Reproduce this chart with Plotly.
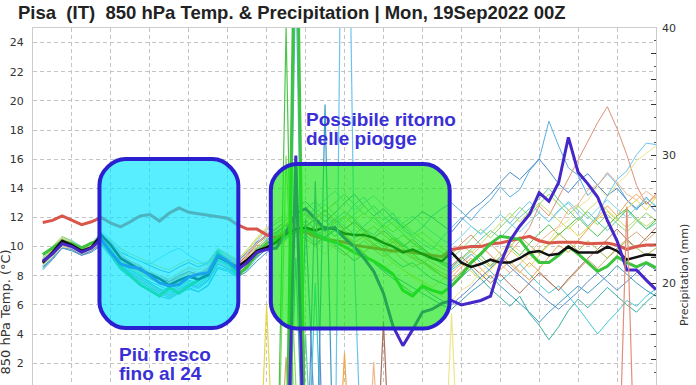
import plotly.graph_objects as go

# ---------------- data ----------------
FORECAST_HOURS = list(range(6, 385, 6))  # 64 forecast steps (6-hourly)

TEMP_TICKS = [2, 4, 6, 8, 10, 12, 14, 16, 18, 20, 22, 24]
PRECIP_TICK_VALUES = [14, 16, 18, 20, 22, 24, 26, 28, 30, 32, 34, 36, 38, 40]
PRECIP_TICK_TEXT = ["", "", "", "20", "", "", "", "", "30", "", "", "", "", "40"]

CLIMATE = [11.65, 11.8, 12.1, 11.8, 11.5, 11.7,
           12.0, 11.6, 11.35, 11.7, 12.1, 12.2, 11.75, 12.3, 12.65, 12.35, 12.25, 12.2, 12.05, 11.95, 11.5,
           11.2, 11.2, 10.8, 10.6,
           10.9, 11.1, 11.0, 10.7, 10.5, 10.4, 10.3, 10.1, 10.0, 9.9, 9.8, 9.7, 9.7, 9.6, 9.5, 9.4, 9.3,
           9.8, 9.9, 10.0, 10.0, 10.2, 10.25, 10.4, 10.5, 10.7, 10.4, 10.25, 10.3, 10.3, 10.3, 10.2, 10.2,
           10.25, 10.1, 9.8, 10.0, 10.1, 10.1]

ENS_MEAN = [8.9, 9.6, 10.4, 10.1, 9.7, 9.95,
            10.8, 10.1, 9.2, 8.8, 8.4, 8.1, 7.8, 7.35, 7.7, 7.95, 7.75, 8.05, 9.3, 8.95, 8.6,
            9.1, 9.7, 9.95, 10.3,
            10.9, 11.2, 11.3, 11.1, 11.3, 11.2, 10.9, 10.8, 10.8, 10.6, 10.25, 10.0, 9.6, 9.8, 9.5, 9.2, 9.0,
            9.6, 8.9, 8.6, 8.8, 9.1, 8.9, 8.9, 9.2, 9.6, 9.7, 9.4, 9.5, 10.0, 9.6, 9.6, 9.6, 10.0, 9.7,
            9.1, 9.3, 9.45, 9.4]

CONTROL = [9.45, 9.9, 10.35, 10.2, 9.9, 10.25,
           10.4, 9.5, 8.6, 8.0, 7.4, 7.0, 6.6, 7.2, 6.8, 7.3, 7.7, 8.2, 9.6, 9.0, 8.0,
           8.6, 9.5, 10.2, 10.5,
           10.8, 11.0, 11.2, 10.9, 10.5, 10.3, 10.0, 9.6, 9.3, 9.0, 8.6, 8.1, 7.0, 6.6, 7.3, 7.0, 6.8,
           7.3, 8.0, 8.9, 9.5, 10.2, 10.7, 10.6, 10.5, 9.6, 8.9, 8.9, 9.4, 10.0, 9.5, 8.9, 8.3, 8.65, 9.3,
           8.9, 8.6, 8.9, 8.55]

OPERATIONAL = [9.0, 9.5, 10.2, 10.0, 9.6, 9.9,
               10.5, 9.6, 8.8, 8.6, 8.5, 8.0, 7.5, 7.3, 7.4, 7.9, 8.1, 8.2, 9.4, 9.0, 8.4,
               8.9, 9.6, 9.8, 9.9,
               11.0, 12.3, 12.6, 11.9, 11.2, 11.3, 10.6, 10.0, 9.2, 8.3, 6.8, 4.5, 3.2, 4.3, 5.5, 5.7, 6.1,
               6.3, 6.0, 6.15, 6.3, 6.6, 8.8, 10.4, 11.4, 12.2, 13.7, 13.1, 14.4, 17.5, 15.1, 14.3, 13.4,
               11.8, 10.4, 8.4, 8.4, 7.7, 7.05]

MEMBER_01 = [8.7, 9.4, 10.2, 10.3, 9.8, 10.1,
             10.6, 9.8, 8.9, 8.4, 8.0, 7.6, 7.3, 7.0, 7.4, 7.7, 7.5, 8.0, 9.0, 8.7, 8.4,
             9.0, 9.8, 10.4, 10.9,
             11.4, 11.9, 12.3, 11.6, 11.0, 11.8, 12.4, 11.9, 11.2, 10.8, 11.5, 12.0, 11.4, 10.8, 11.3, 12.1, 12.6,
             13.0, 12.4, 11.8, 12.6, 13.2, 14.1, 13.4, 13.9, 15.2, 16.0, 18.6, 16.9, 15.4, 14.9, 13.5, 14.2,
             15.0, 14.3, 13.2, 12.5, 13.4, 12.7]
MEMBER_02 = [9.1, 9.7, 10.5, 10.0, 9.6, 9.8,
             10.7, 10.2, 9.4, 9.0, 8.7, 8.2, 8.0, 7.6, 7.9, 8.3, 8.0, 8.4, 9.5, 9.1, 8.7,
             9.3, 10.1, 10.0, 10.4,
             10.9, 11.3, 10.8, 11.5, 12.2, 11.6, 11.1, 10.6, 10.9, 10.2, 9.7, 10.3, 9.6, 9.2, 8.8, 9.4, 9.0,
             9.5, 10.2, 10.8, 10.1, 9.4, 8.7, 9.6, 10.4, 11.3, 12.8, 12.1, 13.4, 14.6, 15.9, 17.2, 18.5,
             19.6, 18.1, 16.3, 14.2, 12.9, 13.6]
MEMBER_03 = [8.6, 9.3, 10.0, 9.9, 9.5, 9.7,
             10.3, 9.4, 8.5, 8.1, 7.7, 7.2, 6.9, 6.6, 7.0, 7.3, 7.1, 7.6, 8.8, 8.5, 8.1,
             8.4, 9.2, 9.9, 10.3,
             10.8, 11.5, 12.0, 12.6, 12.1, 11.4, 12.0, 12.9, 13.4, 12.5, 11.8, 12.3, 11.2, 10.7, 10.2, 9.8, 10.6,
             11.3, 12.0, 11.4, 10.9, 11.5, 12.2, 11.6, 12.4, 13.1, 12.3, 11.7, 12.5, 13.0, 12.2, 11.4, 12.1,
             13.5, 14.6, 15.2, 16.3, 17.1, 17.0]
MEMBER_04 = [8.8, 9.5, 10.3, 10.0, 9.7, 10.0,
             10.9, 10.3, 9.6, 9.3, 9.0, 8.7, 8.4, 8.2, 8.6, 8.9, 8.6, 8.9, 9.8, 9.4, 9.0,
             9.6, 10.3, 10.8, 11.2,
             11.8, 12.6, 13.1, 12.4, 11.7, 12.3, 13.0, 13.6, 12.8, 12.1, 12.6, 11.9, 11.3, 11.8, 12.4, 12.0, 11.5,
             11.0, 11.8, 12.5, 13.0, 13.6, 14.4, 15.1, 14.6, 15.3, 16.0, 15.2, 14.3, 13.7, 14.5, 15.0, 14.2,
             13.5, 14.0, 13.2, 12.6, 13.1, 12.4]
MEMBER_05 = [9.0, 9.6, 10.4, 10.2, 9.8, 10.0,
             10.5, 9.6, 8.7, 8.2, 7.6, 7.2, 6.8, 6.5, 6.9, 7.2, 6.9, 7.4, 8.6, 8.4, 8.0,
             8.6, 9.4, 10.0, 10.2,
             10.6, 11.0, 10.5, 10.1, 10.7, 11.2, 10.6, 10.0, 9.6, 10.2, 9.7, 9.1, 8.6, 8.9, 8.3, 7.8, 7.5,
             7.2, 7.9, 8.5, 7.8, 7.1, 6.5, 5.9, 6.6, 5.4, 4.6, 3.6, 4.5, 5.6, 6.4, 5.8, 6.5,
             7.2, 6.6, 6.0, 5.5, 6.2, 6.8]
MEMBER_06 = [8.5, 9.2, 10.1, 10.0, 9.6, 9.9,
             10.4, 9.7, 8.8, 8.3, 7.9, 7.5, 7.1, 6.8, 7.2, 7.5, 7.3, 7.8, 9.0, 8.8, 8.3,
             8.8, 9.7, 10.5, 10.8,
             11.2, 11.7, 11.1, 10.6, 11.3, 11.9, 11.4, 10.8, 11.4, 12.0, 11.3, 10.7, 10.2, 9.6, 9.9, 9.3, 8.8,
             8.4, 8.9, 9.5, 8.9, 8.3, 7.6, 8.2, 8.8, 8.1, 7.4, 6.8, 7.3, 6.6, 5.8, 4.9, 4.0,
             4.8, 5.5, 6.3, 5.9, 6.6, 7.1]
MEMBER_07 = [9.2, 9.9, 10.6, 10.3, 9.9, 10.1,
             10.8, 10.4, 9.9, 9.5, 9.2, 8.9, 8.6, 8.4, 8.8, 9.1, 8.8, 9.0, 9.9, 9.5, 9.1,
             9.7, 10.5, 11.2, 11.6,
             12.0, 11.4, 10.9, 11.5, 10.9, 10.3, 10.8, 10.2, 9.6, 10.1, 9.5, 8.9, 8.4, 8.0, 7.6, 7.2, 7.7,
             8.2, 8.8, 8.3, 7.7, 8.4, 9.1, 9.8, 9.2, 8.6, 9.4, 10.1, 10.8, 11.4, 10.7, 11.3, 11.9,
             12.4, 11.8, 12.6, 13.2, 12.5, 13.4]
MEMBER_08 = [8.9, 9.5, 10.2, 10.1, 9.7, 10.0,
             10.6, 10.0, 9.2, 8.7, 8.4, 8.1, 7.8, 7.5, 7.9, 8.2, 7.9, 8.3, 9.3, 9.0, 8.6,
             9.0, 9.6, 10.2, 10.6,
             11.1, 11.6, 11.0, 10.4, 10.9, 11.4, 10.8, 10.3, 10.7, 10.1, 9.8, 10.4, 9.9, 9.3, 9.0, 8.6, 8.2,
             7.9, 8.6, 9.2, 8.5, 7.8, 8.4, 9.0, 8.3, 7.7, 8.5, 9.3, 10.1, 9.6, 10.4, 11.2, 12.0,
             12.8, 12.1, 13.0, 13.6, 12.9, 13.5]
MEMBER_09 = [9.3, 10.0, 10.7, 10.4, 10.0, 10.2,
             10.9, 10.1, 9.3, 8.8, 8.3, 7.9, 7.5, 7.3, 7.6, 8.0, 7.8, 8.2, 9.2, 8.9, 8.5,
             9.1, 10.0, 10.6, 11.0,
             11.6, 12.2, 11.6, 12.3, 12.9, 12.2, 11.6, 12.2, 12.8, 12.1, 11.5, 11.0, 11.6, 11.0, 10.5, 10.0, 9.6,
             9.2, 9.8, 10.5, 11.2, 10.6, 11.3, 12.0, 12.7, 12.1, 12.9, 13.6, 12.9, 12.2, 12.8, 12.1, 11.5,
             12.2, 11.6, 11.0, 11.7, 12.3, 11.8]
MEMBER_10 = [9.0, 9.8, 10.5, 10.2, 9.9, 10.2,
             10.7, 9.9, 8.9, 8.4, 8.0, 7.5, 7.1, 6.9, 7.3, 7.6, 7.4, 7.9, 9.1, 8.8, 8.4,
             8.9, 9.7, 10.3, 10.7,
             11.2, 10.7, 11.3, 11.9, 11.3, 10.7, 11.2, 11.7, 11.1, 10.5, 10.0, 10.6, 10.1, 9.5, 9.0, 8.5, 8.0,
             7.6, 8.2, 8.8, 9.4, 8.7, 9.3, 10.0, 9.4, 10.2, 10.9, 11.5, 10.8, 11.4, 12.0, 11.3, 10.7,
             11.4, 12.1, 12.6, 11.9, 11.2, 11.8]
MEMBER_11 = [8.8, 9.4, 10.1, 9.8, 9.4, 9.7,
             10.2, 9.5, 8.6, 8.1, 7.7, 7.3, 6.9, 6.6, 7.0, 7.4, 7.2, 7.7, 8.9, 8.6, 8.2,
             8.7, 9.4, 9.9, 10.3,
             10.7, 11.2, 10.6, 10.0, 10.5, 9.9, 9.4, 9.9, 10.4, 9.8, 9.3, 9.7, 9.1, 8.6, 8.9, 8.4, 8.0,
             7.7, 8.3, 8.9, 9.6, 10.2, 9.5, 8.8, 8.2, 8.9, 8.3, 7.6, 7.0, 7.7, 8.4, 9.1, 8.5,
             9.2, 9.9, 10.5, 11.0, 10.4, 11.0]
MEMBER_12 = [9.1, 9.7, 10.4, 10.1, 9.7, 10.0,
             10.6, 10.0, 9.3, 8.9, 8.5, 8.1, 7.8, 7.6, 8.0, 8.3, 8.1, 8.5, 9.5, 9.2, 8.8,
             9.4, 10.2, 10.7, 11.0,
             11.5, 12.0, 11.4, 11.9, 12.5, 11.8, 11.2, 11.7, 11.1, 10.6, 11.1, 10.5, 10.0, 10.5, 9.9, 9.4, 9.0,
             8.7, 9.3, 8.7, 8.1, 7.5, 8.1, 7.4, 6.8, 7.5, 8.2, 7.6, 7.0, 7.8, 8.5, 9.2, 9.8,
             10.5, 11.2, 10.5, 9.9, 10.6, 11.3]
MEMBER_13 = [8.7, 9.3, 10.0, 9.8, 9.5, 9.8,
             10.3, 9.7, 9.0, 8.6, 8.2, 7.9, 7.7, 7.4, 7.8, 8.1, 7.9, 8.3, 9.3, 9.0, 8.6,
             9.2, 9.9, 10.3, 10.0,
             10.4, 9.9, 10.5, 10.0, 9.5, 10.1, 9.6, 9.1, 9.6, 9.0, 8.5, 8.9, 8.4, 7.9, 7.4, 7.0, 6.6,
             6.3, 7.0, 7.4, 8.3, 8.8, 9.7, 10.2, 9.7, 9.1, 9.9, 10.4, 11.3, 11.8, 12.7, 13.2, 14.1,
             13.4, 14.3, 14.9, 15.9, 16.4, 16.9]
MEMBER_14 = [9.0, 9.6, 10.3, 10.2, 9.8, 10.0,
             10.5, 9.8, 9.0, 8.5, 8.1, 7.8, 7.5, 7.3, 7.7, 8.0, 7.8, 8.1, 9.1, 8.7, 8.3,
             8.9, 9.8, 10.4, 10.9,
             11.4, 12.0, 12.6, 13.1, 12.4, 13.0, 13.6, 12.9, 12.2, 12.8, 12.1, 11.5, 10.9, 10.3, 9.8, 9.4, 8.9,
             8.6, 9.2, 9.8, 10.5, 11.1, 10.6, 11.3, 12.0, 12.6, 13.3, 14.0, 13.2, 12.5, 11.8, 12.4, 11.7,
             11.1, 11.8, 12.5, 11.8, 11.2, 11.6]
MEMBER_15 = [8.6, 9.2, 9.9, 9.7, 9.4, 9.6,
             10.1, 9.3, 8.4, 7.9, 7.4, 7.0, 6.6, 6.4, 6.8, 7.1, 6.9, 7.3, 8.5, 8.3, 7.9,
             8.3, 9.0, 9.6, 10.0,
             10.5, 11.1, 11.8, 11.2, 10.6, 11.1, 10.5, 10.0, 9.5, 8.9, 8.4, 8.0, 7.6, 7.2, 6.8, 6.4, 6.0,
             5.7, 6.3, 6.9, 7.4, 8.0, 7.3, 6.7, 6.1, 5.5, 4.8, 5.5, 6.1, 6.7, 7.3, 6.8, 7.4,
             8.0, 8.7, 8.1, 7.5, 7.0, 6.6]
MEMBER_16 = [9.2, 9.8, 10.6, 10.4, 10.0, 10.2,
             11.0, 10.5, 9.8, 9.3, 9.0, 8.8, 9.2, 9.6, 9.9, 9.4, 9.0, 8.7, 9.6, 9.3, 9.0,
             9.5, 10.4, 11.1, 11.6,
             12.1, 12.7, 12.1, 12.6, 13.2, 13.8, 13.1, 12.5, 13.0, 13.5, 12.8, 12.2, 11.6, 12.1, 11.5, 11.0, 10.5,
             10.1, 10.7, 11.4, 10.8, 11.5, 12.2, 11.6, 11.0, 11.7, 12.3, 11.7, 12.4, 13.1, 12.5, 11.9, 12.6,
             13.2, 12.6, 12.0, 12.7, 13.3, 12.8]
MEMBER_17 = [8.9, 9.6, 10.3, 10.0, 9.6, 9.9,
             10.6, 10.0, 9.1, 8.6, 8.2, 7.8, 7.5, 7.2, 7.6, 7.9, 7.7, 8.1, 9.2, 8.9, 8.5,
             9.1, 9.9, 10.4, 10.8,
             11.2, 11.7, 12.2, 11.6, 11.1, 11.6, 12.1, 11.5, 10.9, 11.4, 10.8, 10.3, 10.8, 10.2, 9.7, 9.2, 8.8,
             8.5, 9.1, 9.7, 9.1, 8.6, 9.3, 10.0, 10.7, 10.1, 9.5, 10.2, 10.9, 10.3, 9.7, 10.4, 9.8,
             9.2, 9.8, 10.4, 9.9, 9.4, 9.9]
MEMBER_18 = [9.1, 9.8, 10.6, 10.3, 9.9, 10.1,
             10.8, 10.2, 9.5, 9.0, 8.6, 8.3, 8.0, 7.8, 8.2, 8.6, 8.4, 8.8, 9.7, 9.4, 9.1,
             9.8, 10.6, 11.3, 11.8,
             12.3, 12.9, 12.3, 11.8, 12.4, 13.0, 12.4, 11.8, 12.3, 11.7, 11.2, 11.7, 11.1, 10.6, 11.0, 10.4, 9.9,
             9.5, 10.1, 9.6, 10.2, 10.9, 11.6, 12.3, 11.7, 12.4, 13.0, 12.4, 11.8, 11.2, 11.8, 12.5, 13.1,
             12.5, 11.9, 11.3, 11.9, 11.4, 11.9]
MEMBER_19 = [8.4, 9.1, 9.9, 9.8, 9.4, 9.7,
             10.2, 9.5, 8.7, 8.2, 7.8, 7.4, 7.0, 6.7, 7.1, 7.4, 7.2, 7.7, 8.8, 8.5, 8.1,
             8.6, 9.3, 9.8, 10.2,
             10.7, 11.3, 10.8, 10.2, 10.7, 10.1, 9.6, 9.0, 9.5, 8.9, 8.3, 7.8, 7.3, 6.8, 7.2, 6.7, 6.3,
             6.0, 6.6, 7.2, 7.9, 8.5, 9.2, 8.6, 8.0, 7.4, 6.8, 6.2, 5.7, 6.3, 6.9, 7.6, 8.2,
             7.6, 7.0, 7.6, 8.2, 8.8, 8.4]
MEMBER_20 = [9.0, 9.7, 10.5, 10.2, 9.8, 10.1,
             10.7, 10.1, 9.4, 9.0, 8.6, 8.2, 8.0, 7.7, 8.1, 8.5, 8.2, 8.6, 9.6, 9.3, 8.9,
             9.5, 10.2, 10.9, 11.3,
             11.8, 11.2, 11.8, 12.4, 11.8, 11.2, 10.7, 11.2, 10.6, 10.1, 10.5, 10.0, 9.5, 9.9, 9.4, 8.9, 8.5,
             8.2, 8.8, 9.4, 10.0, 9.4, 8.8, 8.2, 8.8, 9.5, 10.3, 10.9, 11.4, 12.5, 12.9, 13.9, 14.2,
             15.1, 14.4, 13.6, 13.2, 13.8, 13.3]

MEMBERS = [MEMBER_01, MEMBER_02, MEMBER_03, MEMBER_04, MEMBER_05, MEMBER_06, MEMBER_07,
           MEMBER_08, MEMBER_09, MEMBER_10, MEMBER_11, MEMBER_12, MEMBER_13, MEMBER_14,
           MEMBER_15, MEMBER_16, MEMBER_17, MEMBER_18, MEMBER_19, MEMBER_20]

# precipitation (mm) per run, 6-hourly
PRECIP_CONTROL = [0, 0, 0, 0, 0, 0, 0, 0,
                  0, 0, 0, 0, 0, 0, 0, 0,
                  0, 0, 0, 0, 0, 0, 0, 0,
                  0.2, 1.0, 55, 2.0, 0.5, 0, 0, 0,
                  0, 0, 0, 0, 0, 0, 0, 0,
                  0, 0, 0, 0, 0, 0, 0, 0,
                  0, 0, 0, 0, 0, 0, 0, 0,
                  0, 0, 0, 0, 0, 0, 0, 0]
PRECIP_OPERATIONAL = [0, 0, 0, 0, 0, 0, 0, 0,
                      0, 0, 0, 0, 0, 0, 0, 0,
                      0, 0, 0, 0, 0, 0, 0, 0,
                      0, 0.5, 30, 1.5, 0, 0, 0, 0,
                      0, 0, 0, 0, 0, 0, 0, 0,
                      0, 0, 0, 0, 0, 0, 0, 0,
                      0, 0, 0, 0, 0, 0, 0, 0,
                      0, 0, 0, 0, 0, 0, 0, 0]
PRECIP_M01 = [0, 0, 0, 0, 0, 0, 0, 0,  0, 0, 0, 0, 0, 0, 0, 0,
              0, 0, 0, 0, 0, 0, 0, 0,  0, 0, 45, 0, 0, 0, 0, 0,
              0, 0, 0, 0, 0, 0, 0, 0,  0, 0, 0, 0, 0, 0, 0, 0,
              0, 0, 0, 0, 0, 0, 0, 0,  0, 0, 0, 0, 0, 0, 0, 0]
PRECIP_M02 = [0, 0, 0, 0, 0, 0, 0, 0,  0, 0, 0, 0, 0, 0, 0, 0,
              0, 0, 0, 0, 0, 0, 0, 0,  0, 0, 0, 0, 0, 0, 0, 0,
              0, 0, 0, 0, 0, 0, 0, 0,  0, 0, 0, 0, 0, 0, 0, 0,
              0, 0, 0, 0, 0, 0, 0, 0,  0, 0, 0, 0, 26, 0, 0, 0]
PRECIP_M03 = [0, 0, 0, 0, 0, 0, 0, 0,  0, 0, 0, 0, 0, 0, 0, 0,
              0, 0, 0, 0, 0, 0, 0, 0,  0, 0, 0, 0, 0, 0, 2, 75,
              22, 0, 0, 0, 0, 0, 0, 0,  0, 0, 0, 0, 0, 0, 0, 0,
              0, 0, 0, 0, 0, 0, 0, 0,  0, 0, 0, 0, 0, 0, 0, 0]
PRECIP_M04 = [0, 0, 0, 0, 0, 0, 0, 0,  0, 0, 0, 0, 0, 0, 0, 0,
              0, 0, 0, 0, 0, 0, 0, 0,  0, 0, 0, 25, 8, 0, 0, 0,
              0, 0, 0, 0, 0, 0, 0, 0,  0, 0, 0, 0, 0, 0, 0, 0,
              0, 0, 0, 0, 0, 0, 0, 0,  0, 0, 0, 0, 0, 0, 0, 0]
PRECIP_M05 = [0, 0, 0, 0, 0, 0, 0, 0,  0, 0, 0, 0, 0, 0, 0, 0,
              0, 0, 0, 0, 0, 0, 0, 0,  0, 0, 22, 0, 0, 0, 0, 0,
              0, 0, 0, 0, 0, 0, 0, 0,  0, 0, 0, 0, 0, 0, 0, 0,
              0, 0, 0, 0, 0, 0, 0, 0,  0, 0, 0, 0, 0, 0, 0, 0]
PRECIP_M06 = [0, 0, 0, 0, 0, 0, 0, 0,  0, 0, 0, 0, 0, 0, 0, 0,
              0, 0, 0, 0, 0, 0, 0, 0,  0, 0, 0, 0, 20, 0, 0, 0,
              0, 0, 0, 0, 0, 0, 0, 0,  0, 0, 0, 0, 0, 0, 0, 0,
              0, 0, 0, 0, 0, 0, 0, 0,  0, 0, 0, 0, 0, 0, 0, 0]
PRECIP_M07 = [0, 0, 0, 0, 0, 0, 0, 0,  0, 0, 0, 0, 0, 0, 0, 0,
              0, 0, 0, 0, 0, 0, 0, 18.3,  0, 0, 0, 0, 0, 0, 0, 0,
              0, 0, 0, 0, 0, 0, 0, 0,  0, 0, 0, 0, 0, 0, 0, 0,
              0, 0, 0, 0, 0, 0, 0, 0,  0, 0, 0, 0, 0, 0, 0, 0]
PRECIP_M08 = [0, 0, 0, 0, 0, 0, 0, 0,  0, 0, 0, 0, 0, 0, 0, 0,
              0, 0, 0, 0, 0, 0, 0, 0,  0, 0, 0, 0, 0, 0, 0, 14.5,
              0, 0, 0, 0, 0, 0, 0, 0,  0, 0, 0, 0, 0, 0, 0, 0,
              0, 0, 0, 0, 0, 0, 0, 0,  0, 0, 0, 0, 0, 0, 0, 0]
PRECIP_M09 = [0, 0, 0, 0, 0, 0, 0, 0,  0, 0, 0, 0, 0, 0, 0, 0,
              0, 0, 0, 0, 0, 0, 0, 0,  0, 30, 12, 0, 0, 0, 0, 0,
              0, 0, 0, 0, 0, 0, 0, 0,  0, 0, 0, 0, 0, 0, 0, 0,
              0, 0, 0, 0, 0, 0, 0, 0,  0, 0, 0, 0, 0, 0, 0, 0]
PRECIP_M10 = [0, 0, 0, 0, 0, 0, 0, 0,  0, 0, 0, 0, 0, 0, 0, 0,
              0, 0, 0, 0, 0, 0, 0, 0,  0, 40, 0, 0, 0, 0, 0, 0,
              0, 0, 0, 0, 0, 0, 0, 0,  0, 0, 0, 0, 0, 0, 0, 0,
              0, 0, 0, 0, 0, 0, 0, 0,  0, 0, 0, 0, 0, 0, 0, 0]
PRECIP_M11 = [0, 0, 0, 0, 0, 0, 0, 0,  0, 0, 0, 0, 0, 0, 0, 0,
              0, 0, 0, 0, 0, 0, 0, 0,  0, 14.2, 0, 0, 0, 0, 0, 0,
              0, 0, 0, 0, 0, 0, 0, 0,  0, 0, 0, 0, 0, 0, 0, 0,
              0, 0, 0, 0, 0, 0, 0, 0,  0, 0, 0, 0, 0, 0, 0, 0]
PRECIP_M12 = [0, 0, 0, 0, 0, 0, 0, 0,  0, 0, 0, 0, 0, 0, 0, 0,
              0, 0, 0, 0, 0, 0, 0, 0,  0, 0, 0, 0, 0, 0, 0, 0,
              0, 0, 0, 17, 0, 0, 0, 0,  0, 0, 0, 0, 0, 0, 0, 0,
              0, 0, 0, 0, 0, 0, 0, 0,  0, 0, 0, 0, 0, 0, 0, 0]
PRECIP_M13 = [0, 0, 0, 0, 0, 0, 0, 0,  0, 0, 0, 0, 0, 0, 0, 0,
              0, 0, 0, 0, 0, 0, 0, 0,  0, 0, 0, 0, 0, 0, 0, 0,
              0, 0, 0, 0, 0, 0, 0, 0,  0, 0, 17.6, 0, 0, 0, 0, 0,
              0, 0, 0, 0, 0, 0, 0, 0,  0, 0, 0, 0, 0, 0, 0, 0]
PRECIP_M14 = [0, 0, 0, 0, 0, 0, 0, 0,  0, 0, 0, 0, 0, 0, 0, 0,
              0, 0, 0, 0, 0, 0, 0, 0,  0, 0, 0, 16, 0, 0, 0, 0,
              0, 0, 0, 0, 0, 0, 0, 0,  0, 0, 0, 0, 0, 0, 0, 0,
              0, 0, 0, 0, 0, 0, 0, 0,  0, 0, 0, 0, 0, 0, 0, 0]
PRECIP_M15 = [0, 0, 0, 0, 0, 0, 0, 0,  0, 0, 0, 0, 0, 0, 0, 0,
              0, 0, 0, 0, 0, 0, 0, 0,  0, 0, 0, 0, 0, 34, 0, 0,
              0, 0, 0, 0, 0, 0, 0, 0,  0, 0, 0, 0, 0, 0, 0, 0,
              0, 0, 0, 0, 0, 0, 0, 0,  0, 0, 0, 0, 0, 0, 0, 0]
PRECIP_M19 = [0, 0, 0, 0, 0, 0, 0, 0,  0, 0, 0, 0, 0, 0, 0, 0,
              0, 0, 0, 0, 0, 0, 0, 0,  0, 0, 0, 0, 28, 0, 0, 0,
              0, 0, 0, 0, 0, 0, 0, 0,  0, 0, 0, 0, 0, 0, 0, 0,
              0, 0, 0, 0, 0, 0, 0, 0,  0, 0, 0, 0, 0, 0, 0, 0]
PRECIP_M20 = [0, 0, 0, 0, 0, 0, 0, 0,  0, 0, 0, 0, 0, 0, 0, 0,
              0, 0, 0, 0, 0, 0, 0, 0,  0, 0, 0, 0, 0, 0, 0, 0,
              0, 0, 13.8, 0, 0, 0, 0, 0,  0, 0, 0, 0, 0, 0, 0, 0,
              0, 0, 0, 0, 0, 0, 0, 0,  0, 0, 0, 0, 0, 0, 0, 0]

MEMBER_PRECIP = {0: PRECIP_M01, 1: PRECIP_M02, 2: PRECIP_M03, 3: PRECIP_M04, 4: PRECIP_M05,
                 5: PRECIP_M06, 6: PRECIP_M07, 7: PRECIP_M08, 8: PRECIP_M09, 9: PRECIP_M10,
                 10: PRECIP_M11, 11: PRECIP_M12, 12: PRECIP_M13, 13: PRECIP_M14, 14: PRECIP_M15,
                 18: PRECIP_M19, 19: PRECIP_M20}

# ---------------- styles ----------------
MEMBER_COLORS = ["#5aaee0", "#e0907a", "#6cc4ee", "#4a88c8", "#3ab0a0", "#40c8d8", "#e6d64c",
                 "#eea850", "#8ed868", "#4cc44c", "#d2a874", "#a8705c", "#eee48e", "#5ccca0",
                 "#3c9cc0", "#80d4e4", "#aac050", "#c6dc6c", "#5c8cd0", "#f0b890"]
RED = "#d9574a"
BLACK = "#111111"
GREEN = "#3cc43c"
PURPLE = "#4628c8"
BOX_BLUE = "#2a20d0"
TEXT_BLUE = "#3a30d6"

W, H = 696, 385
ML, MR, MT, MB = 32.5, 40, 28, 0
PW, PH = W - ML - MR, H - MT - MB


def px_x(x):
    return (x - ML) / PW


def px_y(y):
    return (H - MB - y) / PH


def rounded_box(x0, y0, x1, y1, r):
    # pixel coordinates -> paper path with rounded corners
    X0, X1 = px_x(x0), px_x(x1)
    Yt, Yb = px_y(y0), px_y(y1)
    rx, ry = r / PW, r / PH
    k = 0.45
    p = []
    p.append(f"M {X0+rx},{Yt}")
    p.append(f"L {X1-rx},{Yt}")
    p.append(f"C {X1-rx*k},{Yt} {X1},{Yt-ry*(1-k)} {X1},{Yt-ry}")
    p.append(f"L {X1},{Yb+ry}")
    p.append(f"C {X1},{Yb+ry*k} {X1-rx*(1-k)},{Yb} {X1-rx},{Yb}")
    p.append(f"L {X0+rx},{Yb}")
    p.append(f"C {X0+rx*k},{Yb} {X0},{Yb+ry*(1-k)} {X0},{Yb+ry}")
    p.append(f"L {X0},{Yt-ry}")
    p.append(f"C {X0},{Yt-ry*k} {X0+rx*(1-k)},{Yt} {X0+rx},{Yt}")
    p.append("Z")
    return " ".join(p)


fig = go.Figure()

for i, vals in enumerate(MEMBERS):
    fig.add_trace(go.Scatter(x=FORECAST_HOURS, y=vals, mode="lines",
                             line=dict(color=MEMBER_COLORS[i], width=1),
                             hoverinfo="skip", showlegend=False))

fig.add_trace(go.Scatter(x=FORECAST_HOURS, y=CLIMATE, mode="lines",
                         line=dict(color=RED, width=3), hoverinfo="skip", showlegend=False))
fig.add_trace(go.Scatter(x=FORECAST_HOURS, y=CONTROL, mode="lines",
                         line=dict(color=GREEN, width=3), hoverinfo="skip", showlegend=False))
fig.add_trace(go.Scatter(x=FORECAST_HOURS, y=ENS_MEAN, mode="lines",
                         line=dict(color=BLACK, width=2.5), hoverinfo="skip", showlegend=False))
fig.add_trace(go.Scatter(x=FORECAST_HOURS, y=OPERATIONAL, mode="lines",
                         line=dict(color=PURPLE, width=3), hoverinfo="skip", showlegend=False))

for i, vals in MEMBER_PRECIP.items():
    fig.add_trace(go.Scatter(x=FORECAST_HOURS, y=vals, mode="lines", yaxis="y2",
                             line=dict(color=MEMBER_COLORS[i], width=1.2),
                             hoverinfo="skip", showlegend=False))
fig.add_trace(go.Scatter(x=FORECAST_HOURS, y=PRECIP_CONTROL, mode="lines", yaxis="y2",
                         line=dict(color=GREEN, width=3), hoverinfo="skip", showlegend=False))
fig.add_trace(go.Scatter(x=FORECAST_HOURS, y=PRECIP_OPERATIONAL, mode="lines", yaxis="y2",
                         line=dict(color=PURPLE, width=3), hoverinfo="skip", showlegend=False))

shapes = [
    dict(type="path", xref="paper", yref="paper", path=rounded_box(99, 159, 238, 328, 26),
         fillcolor="rgba(0,229,255,0.65)", line=dict(color=BOX_BLUE, width=4), layer="above"),
    dict(type="path", xref="paper", yref="paper", path=rounded_box(270.5, 164, 449.5, 328.5, 26),
         fillcolor="rgba(20,230,20,0.65)", line=dict(color=BOX_BLUE, width=4), layer="above"),
]

ann_font = dict(family="Liberation Sans, Arial, sans-serif", size=19, color=TEXT_BLUE, weight=700)
annotations = [
    dict(text="Possibile ritorno", x=px_x(304), y=px_y(120), xref="paper", yref="paper",
         xanchor="left", yanchor="middle", showarrow=False, font=ann_font),
    dict(text="delle piogge", x=px_x(304), y=px_y(138), xref="paper", yref="paper",
         xanchor="left", yanchor="middle", showarrow=False, font=ann_font),
    dict(text="Più fresco", x=px_x(117), y=px_y(354), xref="paper", yref="paper",
         xanchor="left", yanchor="middle", showarrow=False, font=ann_font),
    dict(text="fino al 24", x=px_x(117), y=px_y(373), xref="paper", yref="paper",
         xanchor="left", yanchor="middle", showarrow=False, font=ann_font),
    dict(text="850 hPa Temp. (°C)", x=px_x(4), y=px_y(312), xref="paper", yref="paper",
         xanchor="center", yanchor="middle", textangle=-90, showarrow=False,
         font=dict(family="DejaVu Sans", size=13, color="#333333")),
    dict(text="Precipitation (mm)", x=px_x(684), y=px_y(275), xref="paper", yref="paper",
         xanchor="center", yanchor="middle", textangle=-90, showarrow=False,
         font=dict(family="DejaVu Sans", size=11, color="#333333")),
]

grid = dict(showgrid=True, gridcolor="#c4c4c4", gridwidth=1, griddash="4px,3px")

fig.update_layout(
    width=W, height=H,
    margin=dict(l=ML, r=MR, t=MT, b=MB, pad=0, autoexpand=False),
    paper_bgcolor="white", plot_bgcolor="white",
    title=dict(text="Pisa  (IT)  850 hPa Temp. & Precipitation | Mon, 19Sep2022 00Z",
               x=18 / W, xanchor="left", y=1 - 13 / H, yanchor="middle",
               font=dict(family="Liberation Sans Narrow, Arial Narrow, sans-serif", size=18.5,
                         color="#222222", weight=700)),
    xaxis=dict(range=[0, 384], dtick=24, tick0=0, showticklabels=False, ticks="",
               showline=True, linecolor="#cccccc", mirror=True, zeroline=False,
               automargin=False, **grid),
    yaxis=dict(range=[0.5, 25.0], tickvals=TEMP_TICKS, ticks="", showline=True,
               linecolor="#cccccc", mirror=True, zeroline=False, automargin=False,
               tickfont=dict(family="DejaVu Sans", size=11, color="#333333"),
               ticklabelstandoff=6, **grid),
    yaxis2=dict(range=[12, 40], overlaying="y", side="right", showgrid=False, zeroline=False,
                tickvals=PRECIP_TICK_VALUES, ticktext=PRECIP_TICK_TEXT, automargin=False,
                ticks="inside", ticklen=5, tickcolor="#333333", tickwidth=1,
                minor=dict(dtick=1, tick0=0, ticks="inside", ticklen=2, tickcolor="#555555"),
                tickfont=dict(family="DejaVu Sans", size=11, color="#333333"),
                ticklabelstandoff=5, showline=False),
    shapes=shapes,
    annotations=annotations,
)

fig.write_html("out.html", config={"displayModeBar": False},
               post_script="document.body.style.margin='0';")
